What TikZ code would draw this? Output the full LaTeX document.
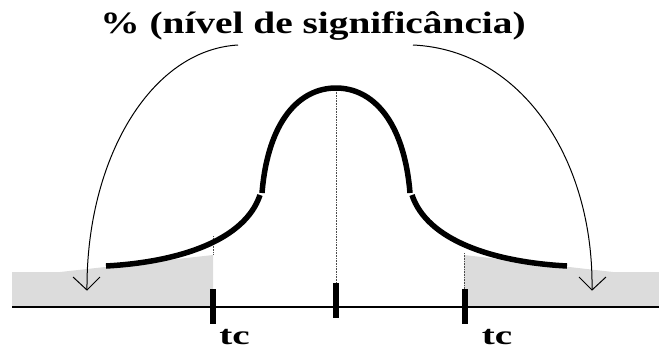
\documentclass[tikz,border=0pt]{standalone}
\usepackage{fontspec}
\setmainfont{Liberation Serif}[Ligatures=NoCommon]
\definecolor{tailgray}{RGB}{220,220,220}
\tikzset{
  bell/.style={line width=5.5pt},
  guide/.style={densely dotted, line width=0.6pt, black!70},
  tickmark/.style={line width=5.5pt},
  axisline/.style={line width=1.8pt},
  arcline/.style={line width=1pt},
  lbl/.style={font=\bfseries\fontsize{31}{31}\selectfont, inner sep=0pt, anchor=base},
  tclbl/.style={font=\bfseries\fontsize{27}{27}\selectfont, inner sep=0pt, anchor=base}
}
\begin{document}
\begin{tikzpicture}[x=1pt,y=-1pt]
\useasboundingbox (0,0) rectangle (659,349);
% shaded tails
\fill[tailgray] (12,307) -- (12,272) -- (60,272) -- (213,255) -- (213,307) -- cycle;
\fill[tailgray] (464,307) -- (464,255) -- (613,272) -- (659,272) -- (659,307) -- cycle;
% axis
\coordinate (axL) at (12,307);
\coordinate (axR) at (659,307);
\draw[axisline] (axL) -- (axR);
% guides
\coordinate (peak) at (336,90);
\coordinate (ctop) at (336,283);
\draw[guide] (peak) -- (ctop);
\draw[guide] (213,236) -- (213,255);
\draw[guide] (464,253) -- (464,289);
% bell curve
\draw[bell] (106,266) .. controls (180,262) and (245,240) .. (260,195);
\draw[bell] (262,193) .. controls (268,120) and (300,88) .. (336,88) .. controls (372,88) and (404,120) .. (410,193);
\draw[bell] (412,195) .. controls (427,240) and (492,262) .. (567,266);
% ticks
\draw[tickmark] (213,289) -- (213,324);
\draw[tickmark] (ctop) -- (336,318);
\draw[tickmark] (465,289) -- (465,324);
% arcs
\coordinate (la) at (238,45);
\coordinate (lt) at (87,290);
\coordinate (ra) at (413,45);
\coordinate (rt) at (592,290);
\draw[arcline] (la) .. controls (150,50) and (86,160) .. (lt);
\draw[arcline] (73,277) -- (lt) -- (100,277);
\draw[arcline] (ra) .. controls (522,50) and (594,160) .. (rt);
\draw[arcline] (579,277) -- (rt) -- (606,277);
% labels
\node[lbl] (title) at (313,33) {\scalebox{1.27}[1]{\% (nível de significância)}};
\node[tclbl] (tcl) at (234.5,344) {\scalebox{1.45}[1]{tc}};
\node[tclbl] (tcr) at (497,344) {\scalebox{1.45}[1]{tc}};
\end{tikzpicture}
\end{document}
